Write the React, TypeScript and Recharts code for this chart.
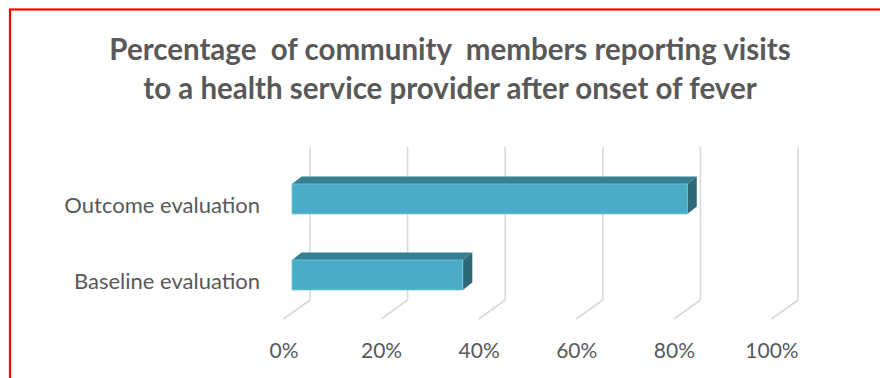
import React from 'react';
import { BarChart, Bar, XAxis, YAxis, CartesianGrid } from 'recharts';

const categories = ['Outcome evaluation', 'Baseline evaluation'];
const visitShare = [81, 35];
const percentTicks = [0, 20, 40, 60, 80, 100];
const titleLines = [
  'Percentage  of community  members reporting visits',
  'to a health service provider after onset of fever',
];

const data = categories.map((name, i) => ({ name, value: visitShare[i] }));

const TEXT = '#595959';
const FONT = 'Lato, "Liberation Sans", sans-serif';
const DX = 9.5;
const DY = 7.5;

// fake 3D bar: front face, top face, right side
const Bar3D = (props: any) => {
  const { x, y, width, height } = props;
  if (width <= 0) return null;
  const r = x + width;
  return (
    <g>
      <polygon
        points={`${x},${y} ${x + DX},${y - DY} ${r + DX},${y - DY} ${r},${y}`}
        fill="#367E91"
      />
      <polygon
        points={`${r},${y} ${r + DX},${y - DY} ${r + DX},${y + height - DY} ${r},${y + height}`}
        fill="#2D6978"
      />
      <rect x={x} y={y} width={width} height={height} fill="#4BACC6" stroke="#7CC6DA" strokeWidth={0.8} />
    </g>
  );
};

// gridline on the back wall, bending forward onto the floor
const gridLine = (props: any) => {
  const { x1, y1, y2, index } = props;
  const back = x1 + 18;
  const front = x1 - 8.5;
  return (
    <polyline
      key={`grid-${index}`}
      points={`${back},${y1 - 14} ${back},${y2 - 13} ${front},${y2 + 6}`}
      fill="none"
      stroke="#D9D9D9"
      strokeWidth={1.6}
    />
  );
};

const PercentTick = (props: any) => {
  const { x, y, payload } = props;
  return (
    <text x={x - 8} y={y} dy={37} textAnchor="middle" fill={TEXT} fontSize={21} fontFamily={FONT}>
      {`${payload.value}%`}
    </text>
  );
};

const CategoryTick = (props: any) => {
  const { x, y, payload } = props;
  return (
    <text x={x - 24} y={y} dy={14} textAnchor="end" fill={TEXT} fontSize={22} fontFamily={FONT}>
      {payload.value}
    </text>
  );
};

export default function App() {
  return (
    <div style={{ position: 'fixed', left: 0, top: 0, width: 880, height: 378, background: '#fff' }}>
      <svg width={880} height={378} style={{ position: 'absolute', left: 0, top: 0 }}>
        <rect x={10} y={9.5} width={900} height={400} fill="none" stroke="#FF0000" strokeWidth={2.2} />
        {titleLines.map((line, i) => (
          <text
            key={i}
            x={450}
            y={60 + i * 39}
            textAnchor="middle"
            fill={TEXT}
            fontSize={29.5}
            fontWeight="bold"
            fontFamily={FONT}
            style={{ whiteSpace: 'pre' }}
          >
            {line}
          </text>
        ))}
      </svg>
      <div style={{ position: 'absolute', left: 0, top: 0 }}>
        <BarChart
          width={880}
          height={378}
          data={data}
          layout="vertical"
          margin={{ top: 161, right: 100, left: 0, bottom: 25 }}
        >
          <CartesianGrid horizontal={false} vertical={gridLine} />
          <XAxis
            type="number"
            domain={[0, 100]}
            ticks={percentTicks}
            axisLine={false}
            tickLine={false}
            height={40}
            tick={<PercentTick />}
            interval={0}
          />
          <YAxis
            type="category"
            dataKey="name"
            width={292}
            axisLine={false}
            tickLine={false}
            tick={<CategoryTick />}
          />
          <Bar dataKey="value" barSize={30} shape={<Bar3D />} isAnimationActive={false} />
        </BarChart>
      </div>
    </div>
  );
}
